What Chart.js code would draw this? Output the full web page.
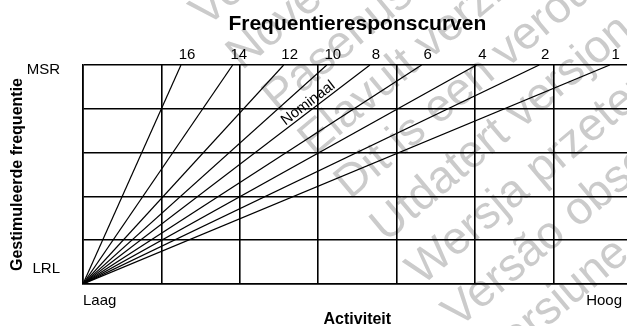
<!DOCTYPE html>
<html>
<head>
<meta charset="utf-8">
<title>Frequentieresponscurven</title>
<script src="https://cdn.jsdelivr.net/npm/chart.js@4.4.1/dist/chart.umd.min.js"></script>
<style>
  body { margin: 0; background: #fff; }
  canvas { display: block; }
</style>
</head>
<body>
<canvas id="curves" width="627" height="326"></canvas>
<script>
// response settings, steepest curve first
let settings = [16, 14, 12, 10, 8, 6, 4, 2, 1];
// activity value (grid columns) where each curve reaches MSR
let topX = [1.25, 1.91, 2.56, 3.11, 3.66, 4.32, 5.02, 5.82, 6.72];
let nominal = 8;
let rateLabels = ['LRL', 'MSR'];
let activityLabels = ['Laag', 'Hoog'];
let watermark = [
    'Versione obsoleta. Non utilizzare.',
    'Novecojusi versija. Neizmantot.',
    'Pasenusi versija. Nenaudokite.',
    'Elavult verzió. Ne használja!',
    'Dit is een verouderde versie. Niet gebruiken.',
    'Utdatert versjon. Skal ikke brukes.',
    'Wersja przeterminowana. Nie używać.',
    'Versão obsoleta. Não utilize.',
    'Versiune expirată. A nu se utiliza.'
];

let font = "'Liberation Sans', Arial, sans-serif";

// each curve runs from LRL at low activity up to MSR
let datasets = settings.map((s, i) => ({
    label: String(s),
    data: [{x: 0, y: 0}, {x: topX[i], y: 5}],
    borderColor: '#000',
    borderWidth: 1.2,
    pointRadius: 0,
    fill: false
}));

let textPlugin = {
    id: 'curveText',
    beforeDraw(chart) {
        // grey stamp behind the chart
        let ctx = chart.ctx;
        ctx.save();
        ctx.fillStyle = '#cbcbcb';
        ctx.font = '46px ' + font;
        ctx.textAlign = 'left';
        ctx.textBaseline = 'alphabetic';
        watermark.forEach((line, i) => {
            let k = i - 4;
            ctx.save();
            ctx.translate(350 + k * 36, 200 + k * 43);
            ctx.rotate(-40 * Math.PI / 180);
            ctx.fillText(line, 0, 0);
            ctx.restore();
        });
        ctx.restore();
    },
    afterDraw(chart) {
        let ctx = chart.ctx, a = chart.chartArea;
        let xs = chart.scales.x, ys = chart.scales.y;
        let mid = xs.getPixelForValue(3.5);
        ctx.save();
        ctx.fillStyle = '#000';

        ctx.font = 'bold 21px ' + font;
        ctx.textAlign = 'center';
        ctx.textBaseline = 'middle';
        ctx.fillText('Frequentieresponscurven', mid, 24);

        // setting numbers above the curve ends
        ctx.font = '15px ' + font;
        settings.forEach((s, i) => {
            ctx.fillText(String(s), xs.getPixelForValue(topX[i]) + 6, a.top - 10);
        });

        ctx.textAlign = 'right';
        ctx.fillText(rateLabels[1], 60, ys.getPixelForValue(5) + 5);
        ctx.fillText(rateLabels[0], 60, ys.getPixelForValue(0) - 15);

        ctx.textAlign = 'left';
        ctx.fillText(activityLabels[0], a.left, a.bottom + 17);
        ctx.textAlign = 'right';
        ctx.fillText(activityLabels[1], a.right - 5, a.bottom + 17);

        ctx.font = 'bold 16px ' + font;
        ctx.textAlign = 'center';
        ctx.fillText('Activiteit', mid, a.bottom + 36);

        ctx.save();
        ctx.translate(18, (a.top + a.bottom) / 2);
        ctx.rotate(-Math.PI / 2);
        ctx.fillText('Gestimuleerde frequentie', 0, 0);
        ctx.restore();

        // label along the nominal curve
        let pts = chart.getDatasetMeta(settings.indexOf(nominal)).data;
        let p0 = pts[0], p1 = pts[1];
        let ang = Math.atan2(p1.y - p0.y, p1.x - p0.x);
        ctx.translate(p0.x + 0.8 * (p1.x - p0.x), p0.y + 0.8 * (p1.y - p0.y));
        ctx.rotate(ang);
        ctx.font = '15px ' + font;
        ctx.textBaseline = 'alphabetic';
        ctx.fillText('Nominaal', 0, -3);
        ctx.restore();
    }
};

new Chart(document.getElementById('curves').getContext('2d'),
{
    type: 'line',
    data: { datasets: datasets },
    options:
    {
        responsive: false,
        animation: false,
        layout: { padding: { left: 83, top: 65, right: 0, bottom: 42 } },
        plugins:
        {
            legend: { display: false },
            tooltip: { enabled: false },
            title: { display: false }
        },
        scales:
        {
            x:
            {
                type: 'linear',
                min: 0,
                max: 6.94,
                ticks: { display: false, stepSize: 1, includeBounds: false },
                grid: { color: '#000', lineWidth: 1.6, drawTicks: false },
                border: { color: '#000', width: 1.6 }
            },
            y:
            {
                type: 'linear',
                min: 0,
                max: 5,
                ticks: { display: false, stepSize: 1 },
                grid: { color: '#000', lineWidth: 1.6, drawTicks: false },
                border: { color: '#000', width: 1.6 }
            }
        }
    },
    plugins: [textPlugin]
});
</script>
</body>
</html>
